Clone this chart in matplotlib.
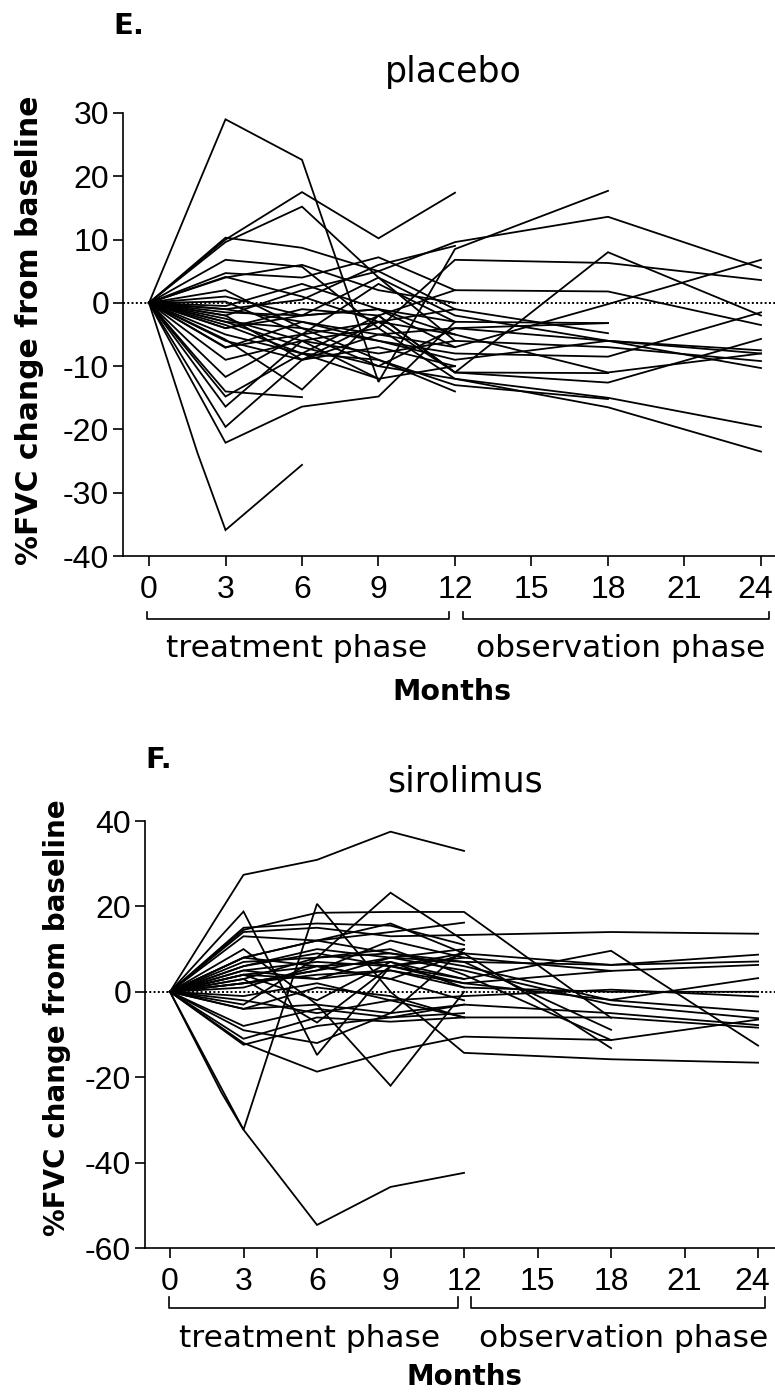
import matplotlib.pyplot as plt
import matplotlib.transforms as mtransforms
import numpy as np

# placebo: one list of visit months and one list of %FVC changes per patient
pl_months = [
    [0, 2, 3, 6, 9, 12, 18], [0, 3, 6, 9, 12], [0, 3, 6, 9, 12, 18, 24],
    [0, 3, 6, 9, 12, 18, 24], [0, 3, 6, 9, 12, 18, 24], [0, 3, 6, 9, 12, 18, 24],
    [0, 3, 6, 9, 12, 18, 24], [0, 3, 6, 9, 12, 18, 24], [0, 3, 6, 9, 12, 18],
    [0, 3, 6, 9, 12, 18], [0, 3, 6, 9, 12, 18, 24], [0, 3, 6, 9, 12, 18, 24],
    [0, 3, 6, 9, 12, 18], [0, 3, 6, 9, 12, 18, 24], [0, 3, 6, 9, 12, 18, 24],
    [0, 3, 6, 9, 12, 18, 24], [0, 3, 6], [0, 3, 6, 9, 12],
    [0, 3, 6, 9, 12, 18, 24], [0, 3, 6, 9, 12], [0, 3, 6, 9, 12],
    [0, 1.9, 3, 6], [0, 3, 6, 9, 12, 18, 24], [0, 3, 6, 9, 12, 18],
    [0, 3, 6, 9, 12], [0, 3, 6, 9, 12], [0, 3, 6, 9, 12],
    [0, 3, 6, 9, 12], [0, 3, 6, 9], [0, 3, 6, 9, 12, 18],
    [0, 3, 6, 9, 12], [0, 3, 6, 9, 12], [0, 3, 6, 9, 12],
    [0, 3, 6, 9, 12, 18, 24], [0, 3, 6, 9, 12], [0, 3, 6, 9, 12],
]
pl_values = [
    [0, 19.4, 29.0, 22.6, -12.5, 8.5, 17.7], [0, 10.0, 17.5, 10.2, 17.4],
    [0, 9.6, 15.2, 4.0, -2.0, -6.0, -8.0], [0, 10.3, 8.7, 5.0, 9.6, 13.6, 5.5],
    [0, 6.8, 5.7, -4.0, 6.8, 6.3, 3.6], [0, 4.7, 4.0, 7.2, 2.0, 1.8, -3.5],
    [0, 4.1, 1.0, -3.0, -11.0, 8.0, -2.0], [0, 1.0, -2.0, -1.0, -7.0, -0.2, 6.8],
    [0, 0.2, -5.0, 3.0, -3.0, -3.2], [0, -2.0, 2.0, 5.0, -1.0, -4.8],
    [0, -3.0, -4.0, -6.0, -8.0, -8.5, -1.5], [0, -4.0, -1.0, -2.0, -11.0, -12.6, -5.7],
    [0, -5.8, -13.7, -2.0, -11.0, -11.1], [0, -7.1, -3.0, -6.0, -9.0, -6.0, -7.5],
    [0, -9.0, -6.0, -8.0, -6.0, -7.0, -9.2], [0, -11.7, -5.0, -10.0, -4.0, -6.0, -10.3],
    [0, -14.0, -14.9], [0, -14.8, -8.0, -2.0, 2.0],
    [0, -16.4, -6.0, -4.0, -12.0, -16.5, -23.5], [0, -19.6, -9.0, -3.0, -1.0],
    [0, -22.1, -16.4, -14.8, -3.0], [0, -23.7, -35.9, -25.6],
    [0, -3.0, -7.0, -10.0, -12.0, -15.0, -19.6], [0, -5.0, -8.0, -9.0, -13.0, -15.2],
    [0, -1.0, -3.0, -5.0, -7.0], [0, -2.5, -6.0, -12.0, -10.0],
    [0, -1.0, 0.5, 6.0, 9.0], [0, 2.0, -4.0, -9.0, -14.0],
    [0, -3.5, -8.0, -12.0], [0, -6.0, -9.0, -5.0, -4.0, -3.2],
    [0, -1.5, -2.0, -1.0, -3.0], [0, 4.0, 6.0, 2.0, 0.0],
    [0, -4.0, -2.0, 4.0, -6.0], [0, -7.0, -5.0, -3.0, -5.0, -11.0, -8.0],
    [0, -0.5, 3.0, -1.0, -5.0], [0, -2.0, -9.0, -7.0, -10.0],
]

# sirolimus
si_months = [
    [0, 2.1, 3, 6, 9, 12], [0, 2.1, 3, 6, 9, 12], [0, 3, 6, 9, 12],
    [0, 3, 6, 9, 12], [0, 3, 6, 9, 12, 18, 24], [0, 3, 6, 9, 12, 18, 24],
    [0, 3, 6, 9, 12, 18], [0, 3, 6, 9, 12, 18, 24], [0, 3, 6, 9, 12, 18, 24],
    [0, 3, 6, 9, 12, 18, 24], [0, 3, 6, 9, 12, 18, 24], [0, 3, 6, 9, 12, 18, 24],
    [0, 3, 6, 9, 12, 18, 24], [0, 3, 6, 9, 12, 18, 24], [0, 3, 6, 9, 12, 18, 24],
    [0, 3, 6, 9, 12, 18, 24], [0, 3, 6, 9, 12, 18, 24], [0, 3, 6, 9, 12, 18, 24],
    [0, 3, 6, 9, 12], [0, 3, 6, 9, 12, 18], [0, 3, 6, 9, 12, 18],
    [0, 3, 6, 9, 12, 18], [0, 3, 6, 9, 12], [0, 3, 6, 9, 12, 18, 24],
    [0, 3, 6, 9, 12], [0, 3, 6, 9, 12], [0, 3, 6, 9, 12],
    [0, 3, 6, 9, 12], [0, 3, 6, 9, 12], [0, 3, 6, 9, 12],
    [0, 3, 6, 9, 12], [0, 3, 6, 9, 12], [0, 3, 6, 9, 12],
    [0, 3, 6, 9, 12, 18], [0, 3, 6, 9, 12], [0, 3, 6, 9, 12],
]
si_values = [
    [0, 19.2, 27.4, 30.9, 37.5, 33.0], [0, -23.6, -32.3, -54.6, -45.7, -42.4],
    [0, 18.8, -14.8, 6.0, 3.0], [0, -3.0, 8.0, 23.2, 12.0],
    [0, -32.3, 20.6, 0.0, -14.3, -15.8, -16.6], [0, 14.0, 15.0, 13.0, 13.3, 14.0, 13.6],
    [0, 14.5, 18.5, 18.7, 18.7, -6.1], [0, 8.0, 6.0, 7.0, 3.0, 9.6, -12.6],
    [0, 13.0, 12.0, 16.0, 9.0, 6.3, 8.7], [0, 7.0, 8.0, 9.0, 7.0, 6.3, 7.1],
    [0, 5.0, 7.0, 6.0, 8.0, 4.9, 6.3], [0, 2.0, 4.0, 5.0, 2.0, -1.9, 3.2],
    [0, 4.0, 3.0, 5.0, 1.0, 0.0, 0.0], [0, -1.0, 2.0, -2.0, -1.0, 0.5, -1.1],
    [0, 8.0, 12.0, 9.0, 6.0, -2.0, -4.6], [0, 2.0, 5.0, 8.0, 5.0, -3.0, -6.2],
    [0, -4.0, -3.0, -5.0, -3.0, -5.0, -7.8], [0, -2.0, -5.0, -2.0, -6.0, -6.0, -8.4],
    [0, -11.0, -6.0, -7.0, -6.0], [0, 6.0, 10.0, 8.0, 7.0, -8.9],
    [0, 4.0, 6.0, 3.0, 9.0, -13.2], [0, 3.0, 8.0, 10.0, 4.0, -11.3],
    [0, 10.0, -3.0, -22.0, 0.0], [0, -12.0, -18.7, -14.0, -10.5, -11.3, -6.5],
    [0, -12.4, -8.0, -6.0, -5.0], [0, -9.0, -12.0, -5.0, 10.0],
    [0, 3.0, -7.2, 6.0, 9.0], [0, -4.0, 1.0, -1.0, -6.0],
    [0, 5.0, 3.0, 8.0, 10.0], [0, 8.0, 12.0, 14.0, 16.2],
    [0, 4.0, -2.0, 7.0, 1.0], [0, -8.0, -4.0, -6.0, -3.0],
    [0, 2.0, 5.0, 12.0, 8.0], [0, 6.0, 9.0, 6.0, 2.0, 4.9],
    [0, 15.0, 16.0, 15.5, 11.0], [0, 1.0, 6.0, 3.0, -2.0],
]

month_ticks = [0, 3, 6, 9, 12, 15, 18, 21, 24]
pl_yticks = [-40, -30, -20, -10, 0, 10, 20, 30]
si_yticks = [-60, -40, -20, 0, 20, 40]

plt.rcParams['font.family'] = 'DejaVu Sans'
plt.rcParams['axes.unicode_minus'] = False

W, H = 775, 1395
fig = plt.figure(figsize=(W / 100, H / 100), dpi=100)


def fx(px):
    return px / W


def fy(py):
    return 1 - py / H


def panel(rect, months, values, ylim, yticks, xmax, br_y, br_top, txt_y, txt_x):
    ax = fig.add_axes(rect)
    for m, v in zip(months, values):
        ax.plot(m, v, color='black', lw=1.3, solid_joinstyle='miter')
    ax.axhline(0, color='black', lw=1.4, ls=(0, (1, 1.2)), zorder=0)
    ax.set_xlim(-1.02, xmax)
    ax.set_ylim(*ylim)
    ax.set_xticks(month_ticks)
    ax.set_yticks(yticks)
    for s in ['top', 'right']:
        ax.spines[s].set_visible(False)
    for s in ['left', 'bottom']:
        ax.spines[s].set_linewidth(1.2)
    ax.tick_params(direction='out', length=7, width=1.2, labelsize=23)
    ax.tick_params(axis='y', pad=3)
    ax.tick_params(axis='x', pad=7)
    # tick numbers in an Arial-like face, as in the reference
    for lab in ax.get_xticklabels() + ax.get_yticklabels():
        lab.set_family('Liberation Sans')
    # keep the last month label inside the picture
    last = ax.get_xticklabels()[-1]
    last.set_transform(last.get_transform() +
                       mtransforms.ScaledTranslation(-4 / 72, 0, fig.dpi_scale_trans))
    # phase brackets under the axis
    for x0, x1 in [(-0.06, 11.75), (12.3, 24.3)]:
        ax.plot([x0, x0, x1, x1], [br_top, br_y, br_y, br_top], color='black',
                lw=1.2, clip_on=False)
    ax.text(txt_x[0], txt_y, 'treatment phase', ha='center', va='baseline',
            fontsize=22.5, clip_on=False)
    ax.text(txt_x[1], txt_y, 'observation phase', ha='center', va='baseline',
            fontsize=22.5, clip_on=False)
    return ax


# E. placebo
panel([fx(123), fy(556), 1 - fx(123), (556 - 113) / H], pl_months, pl_values,
      (-40, 30), pl_yticks, 24.55, -49.9, -48.8, -55.9, (5.8, 18.5))
fig.text(fx(113), fy(34), 'E.', fontsize=21, fontweight='bold', va='baseline')
fig.text(fx(453), fy(82), 'placebo', fontsize=25, ha='center', va='baseline')
fig.text(fx(30), fy(330), '%FVC change from baseline', rotation=90, ha='center',
         va='center', fontsize=21.5, fontweight='bold')
fig.text(fx(452), fy(700), 'Months', ha='center', va='baseline', fontsize=20.5,
         fontweight='bold')

# F. sirolimus
panel([fx(145), fy(1248), 1 - fx(145), (1248 - 821) / H], si_months, si_values,
      (-60, 40), si_yticks, 24.69, -74.0, -71.4, -83.1, (5.7, 18.5))
fig.text(fx(145), fy(768), 'F.', fontsize=21, fontweight='bold', va='baseline')
fig.text(fx(465), fy(792), 'sirolimus', fontsize=25, ha='center', va='baseline')
fig.text(fx(57), fy(1018), '%FVC change from baseline', rotation=90, ha='center',
         va='center', fontsize=20, fontweight='bold')
fig.text(fx(464), fy(1385), 'Months', ha='center', va='baseline', fontsize=20,
         fontweight='bold')

plt.savefig('out.png', dpi=100)
